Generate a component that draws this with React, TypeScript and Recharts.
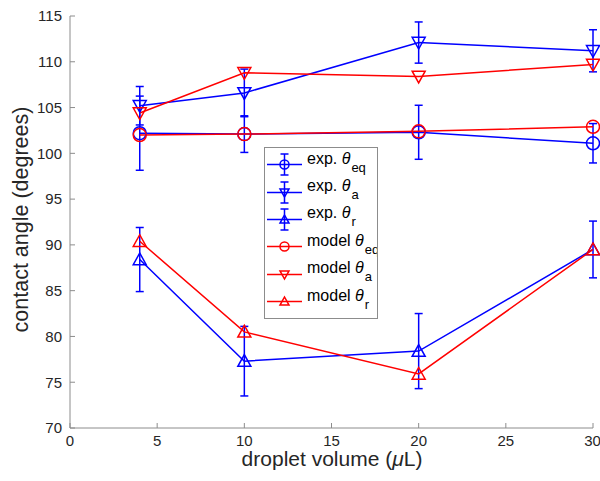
import React from 'react';
import {
  ComposedChart,
  Line,
  XAxis,
  YAxis,
  Legend,
  ErrorBar,
} from 'recharts';

// droplet volume (uL)
const volumes = [4, 10, 20, 30];

// experiment
const expEq = [102.2, 102.1, 102.3, 101.1];
const expEqErr = [4.05, 2.0, 2.95, 2.15];
const expA = [105.2, 106.6, 112.1, 111.2];
const expAErr = [2.1, 2.6, 2.25, 2.3];
const expR = [88.4, 77.3, 78.4, 89.5];
const expRErr = [3.5, 3.8, 4.1, 3.1];

// model
const modelEq = [102.0, 102.1, 102.4, 102.9];
const modelA = [104.4, 108.8, 108.4, 109.7];
const modelR = [90.4, 80.5, 75.9, 89.5];

const xTicks = [0, 5, 10, 15, 20, 25, 30];
const yTicks = [70, 75, 80, 85, 90, 95, 100, 105, 110, 115];

const BLUE = '#0000ff';
const RED = '#ff0000';
const FONT = '"Liberation Sans", Arial, Helvetica, sans-serif';

const data = volumes.map((v, i) => ({
  v,
  expEq: expEq[i],
  expEqErr: expEqErr[i],
  expA: expA[i],
  expAErr: expAErr[i],
  expR: expR[i],
  expRErr: expRErr[i],
  modelEq: modelEq[i],
  modelA: modelA[i],
  modelR: modelR[i],
}));

type Shape = 'circle' | 'down' | 'up';

function marker(shape: Shape, cx: number, cy: number, color: string, s: number, key?: any) {
  if (shape === 'circle') {
    return <circle key={key} cx={cx} cy={cy} r={s} fill="none" stroke={color} strokeWidth={1.5} />;
  }
  const d = shape === 'down'
    ? `M${cx - s},${cy - s * 0.8}L${cx + s},${cy - s * 0.8}L${cx},${cy + s}Z`
    : `M${cx - s},${cy + s * 0.8}L${cx + s},${cy + s * 0.8}L${cx},${cy - s}Z`;
  return <path key={key} d={d} fill="none" stroke={color} strokeWidth={1.5} />;
}

const dotFn = (shape: Shape, color: string) => (p: any) =>
  marker(shape, p.cx, p.cy, color, 6.5, p.index);

const legendItems: { label: string; sub: string; color: string; shape: Shape; err: boolean }[] = [
  { label: 'exp.', sub: 'eq', color: BLUE, shape: 'circle', err: true },
  { label: 'exp.', sub: 'a', color: BLUE, shape: 'down', err: true },
  { label: 'exp.', sub: 'r', color: BLUE, shape: 'up', err: true },
  { label: 'model', sub: 'eq', color: RED, shape: 'circle', err: false },
  { label: 'model', sub: 'a', color: RED, shape: 'down', err: false },
  { label: 'model', sub: 'r', color: RED, shape: 'up', err: false },
];

function LegendBox() {
  return (
    <div
      style={{
        width: 114,
        height: 172,
        border: '1px solid #8c8c8c',
        background: '#fff',
        boxSizing: 'border-box',
        fontFamily: FONT,
        fontSize: 16,
        color: '#000',
        paddingTop: 3,
        overflow: 'hidden',
      }}
    >
      {legendItems.map((it, i) => (
        <div key={i} style={{ display: 'flex', alignItems: 'center', height: 27.4 }}>
          <svg width={42} height={27} style={{ flex: 'none' }}>
            <line x1={2} y1={13.5} x2={37} y2={13.5} stroke={it.color} strokeWidth={1.5} />
            {it.err && (
              <g stroke={it.color} strokeWidth={1.5}>
                <line x1={19.5} y1={3} x2={19.5} y2={24} />
                <line x1={15.5} y1={3} x2={23.5} y2={3} />
                <line x1={15.5} y1={24} x2={23.5} y2={24} />
              </g>
            )}
            {marker(it.shape, 19.5, 13.5, it.color, 4.5)}
          </svg>
          <span style={{ whiteSpace: 'nowrap', marginTop: -5 }}>
            {it.label} <i style={{ fontFamily: FONT }}>θ</i>
            <sub style={{ fontSize: 13, verticalAlign: -8, marginLeft: 1 }}>{it.sub}</sub>
          </span>
        </div>
      ))}
    </div>
  );
}

function YLabel() {
  return (
    <text
      x={27.5}
      y={219.5}
      transform="rotate(-90, 27.5, 219.5)"
      textAnchor="middle"
      fontFamily={FONT}
      fontSize={21.5}
      fill="#262626"
    >
      contact angle (degrees)
    </text>
  );
}

function XLabel() {
  return (
    <text x={332} y={466} textAnchor="middle" fontFamily={FONT} fontSize={21} fill="#262626">
      droplet volume (<tspan fontStyle="italic">μ</tspan>L)
    </text>
  );
}

const tickStyle = { fontFamily: FONT, fontSize: 15, fill: '#262626' };
const axisColor = '#8c8c8c';
const noLabel = () => '';

export default function App() {
  return (
    <div style={{ position: 'absolute', left: 0, top: 0, background: '#fff' }}>
      <ComposedChart
        width={600}
        height={481}
        data={data}
        margin={{ top: 16, right: 7, bottom: 0, left: 0 }}
      >
        <XAxis
          dataKey="v"
          type="number"
          domain={[0, 30]}
          ticks={xTicks}
          height={53}
          tickSize={-5}
          tickMargin={12}
          tick={tickStyle}
          stroke={axisColor}
          label={<XLabel />}
        />
        <XAxis
          xAxisId="top"
          orientation="top"
          dataKey="v"
          type="number"
          domain={[0, 30]}
          ticks={xTicks}
          height={0}
          tickSize={-5}
          tickFormatter={noLabel}
          stroke={axisColor}
        />
        <YAxis
          type="number"
          domain={[70, 115]}
          ticks={yTicks}
          width={70}
          tickSize={-5}
          tickMargin={13}
          tick={tickStyle}
          stroke={axisColor}
          label={<YLabel />}
        />
        <YAxis
          yAxisId="right"
          orientation="right"
          type="number"
          domain={[70, 115]}
          ticks={yTicks}
          width={0}
          tickSize={-5}
          tickFormatter={noLabel}
          stroke={axisColor}
        />
        <Legend
          layout="horizontal"
          verticalAlign="middle"
          align="center"
          content={() => <LegendBox />}
          wrapperStyle={{ position: 'absolute', left: 264, top: 147, width: 114, height: 172 }}
        />

        <Line dataKey="expEq" stroke={BLUE} strokeWidth={1.5} dot={dotFn('circle', BLUE)} isAnimationActive={false}>
          <ErrorBar dataKey="expEqErr" direction="y" width={4} stroke={BLUE} strokeWidth={1.5} />
        </Line>
        <Line dataKey="expA" stroke={BLUE} strokeWidth={1.5} dot={dotFn('down', BLUE)} isAnimationActive={false}>
          <ErrorBar dataKey="expAErr" direction="y" width={4} stroke={BLUE} strokeWidth={1.5} />
        </Line>
        <Line dataKey="expR" stroke={BLUE} strokeWidth={1.5} dot={dotFn('up', BLUE)} isAnimationActive={false}>
          <ErrorBar dataKey="expRErr" direction="y" width={4} stroke={BLUE} strokeWidth={1.5} />
        </Line>
        <Line dataKey="modelEq" stroke={RED} strokeWidth={1.5} dot={dotFn('circle', RED)} isAnimationActive={false} />
        <Line dataKey="modelA" stroke={RED} strokeWidth={1.5} dot={dotFn('down', RED)} isAnimationActive={false} />
        <Line dataKey="modelR" stroke={RED} strokeWidth={1.5} dot={dotFn('up', RED)} isAnimationActive={false} />
      </ComposedChart>
    </div>
  );
}
